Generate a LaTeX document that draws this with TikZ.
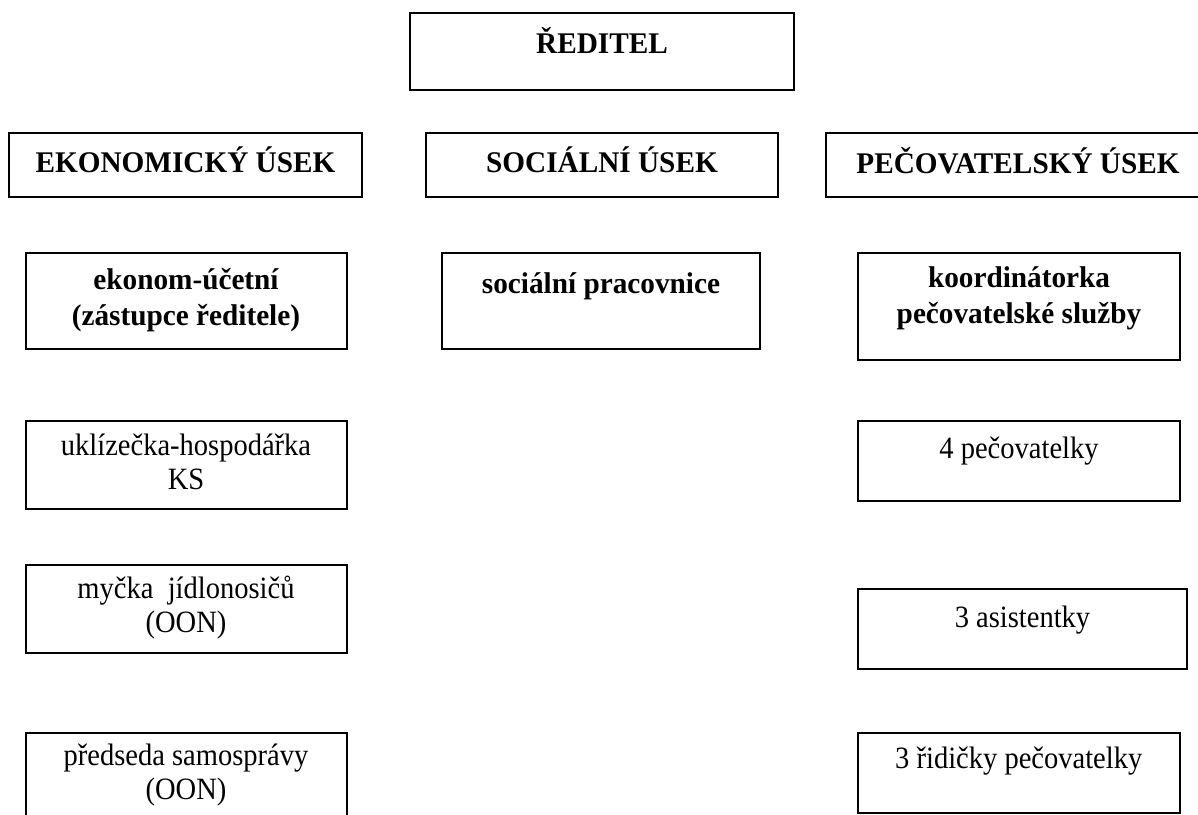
\documentclass[tikz,border=0pt]{standalone}
\usepackage{fontspec}
\setmainfont{Liberation Serif}
\newfontfamily\regfont[FakeStretch=0.92]{Liberation Serif}
\newfontfamily\headfont[FakeStretch=0.975]{Liberation Serif}
\usetikzlibrary{positioning}
\tikzset{
  unit/.style={draw, line width=2pt, anchor=north west, inner sep=0pt},
  hd/.style={inner sep=0pt, align=center, execute at begin node=\strut,
             font=\headfont\fontsize{30}{36}\selectfont\bfseries},
  tx/.style={inner sep=0pt, align=center, execute at begin node=\strut,
             font=\regfont\fontsize{31}{34}\selectfont}
}

\begin{document}
\begin{tikzpicture}[x=1pt, y=-1pt]
  \useasboundingbox (0,0) rectangle (1198,814);

  % Reditel
  \node[unit, minimum width=384pt, minimum height=77pt] (red) at (409,12) {};
  \node[hd, below=14.8pt of red.north] (red-t) {ŘEDITEL};

  % Useky
  \node[unit, minimum width=353pt, minimum height=64pt] (eko) at (8,132) {};
  \node[hd, below=14.8pt of eko.north] (eko-t) {EKONOMICKÝ ÚSEK};
  \node[unit, minimum width=352pt, minimum height=64pt] (soc) at (425,132) {};
  \node[hd, below=14.8pt of soc.north] (soc-t) {SOCIÁLNÍ ÚSEK};
  \node[unit, minimum width=384pt, minimum height=64pt] (pec) at (825,132) {};
  \node[hd, below=14.8pt of pec.north] (pec-t) {PEČOVATELSKÝ ÚSEK};

  % Vedouci useku
  \node[unit, minimum width=321pt, minimum height=96pt] (ucet) at (24.5,252) {};
  \node[hd, below=15.8pt of ucet.north] (ucet-t) {ekonom-účetní\\(zástupce ředitele)};
  \node[unit, minimum width=318pt, minimum height=96pt] (spr) at (441,252) {};
  \node[hd, below=15.8pt of spr.north] (spr-t) {sociální pracovnice};
  \node[unit, minimum width=322pt, minimum height=107pt] (koord) at (857,252) {};
  \node[hd, below=14.8pt of koord.north] (koord-t) {koordinátorka\\pečovatelské služby};

  % Ekonomicky usek
  \node[unit, minimum width=321pt, minimum height=88pt] (ukl) at (24.5,420) {};
  \node[tx, below=14.2pt of ukl.north] (ukl-t) {uklízečka-hospodářka\\KS};
  \node[unit, minimum width=321pt, minimum height=88pt] (myc) at (24.5,564) {};
  \node[tx, below=12.2pt of myc.north] (myc-t) {myčka\ \ jídlonosičů\\(OON)};
  \node[unit, minimum width=321pt, minimum height=90pt] (pred) at (24.5,732) {};
  \node[tx, below=12.2pt of pred.north] (pred-t) {předseda samosprávy\\(OON)};

  % Pecovatelsky usek
  \node[unit, minimum width=322pt, minimum height=80pt] (pec4) at (857,420) {};
  \node[tx, below=14.2pt of pec4.north] (pec4-t) {4 pečovatelky};
  \node[unit, minimum width=329pt, minimum height=80pt] (asi) at (857,588) {};
  \node[tx, below=15.2pt of asi.north] (asi-t) {3 asistentky};
  \node[unit, minimum width=321.5pt, minimum height=80pt] (rid) at (857,732) {};
  \node[tx, below=12.2pt of rid.north] (rid-t) {3 řidičky pečovatelky};
\end{tikzpicture}
\end{document}
